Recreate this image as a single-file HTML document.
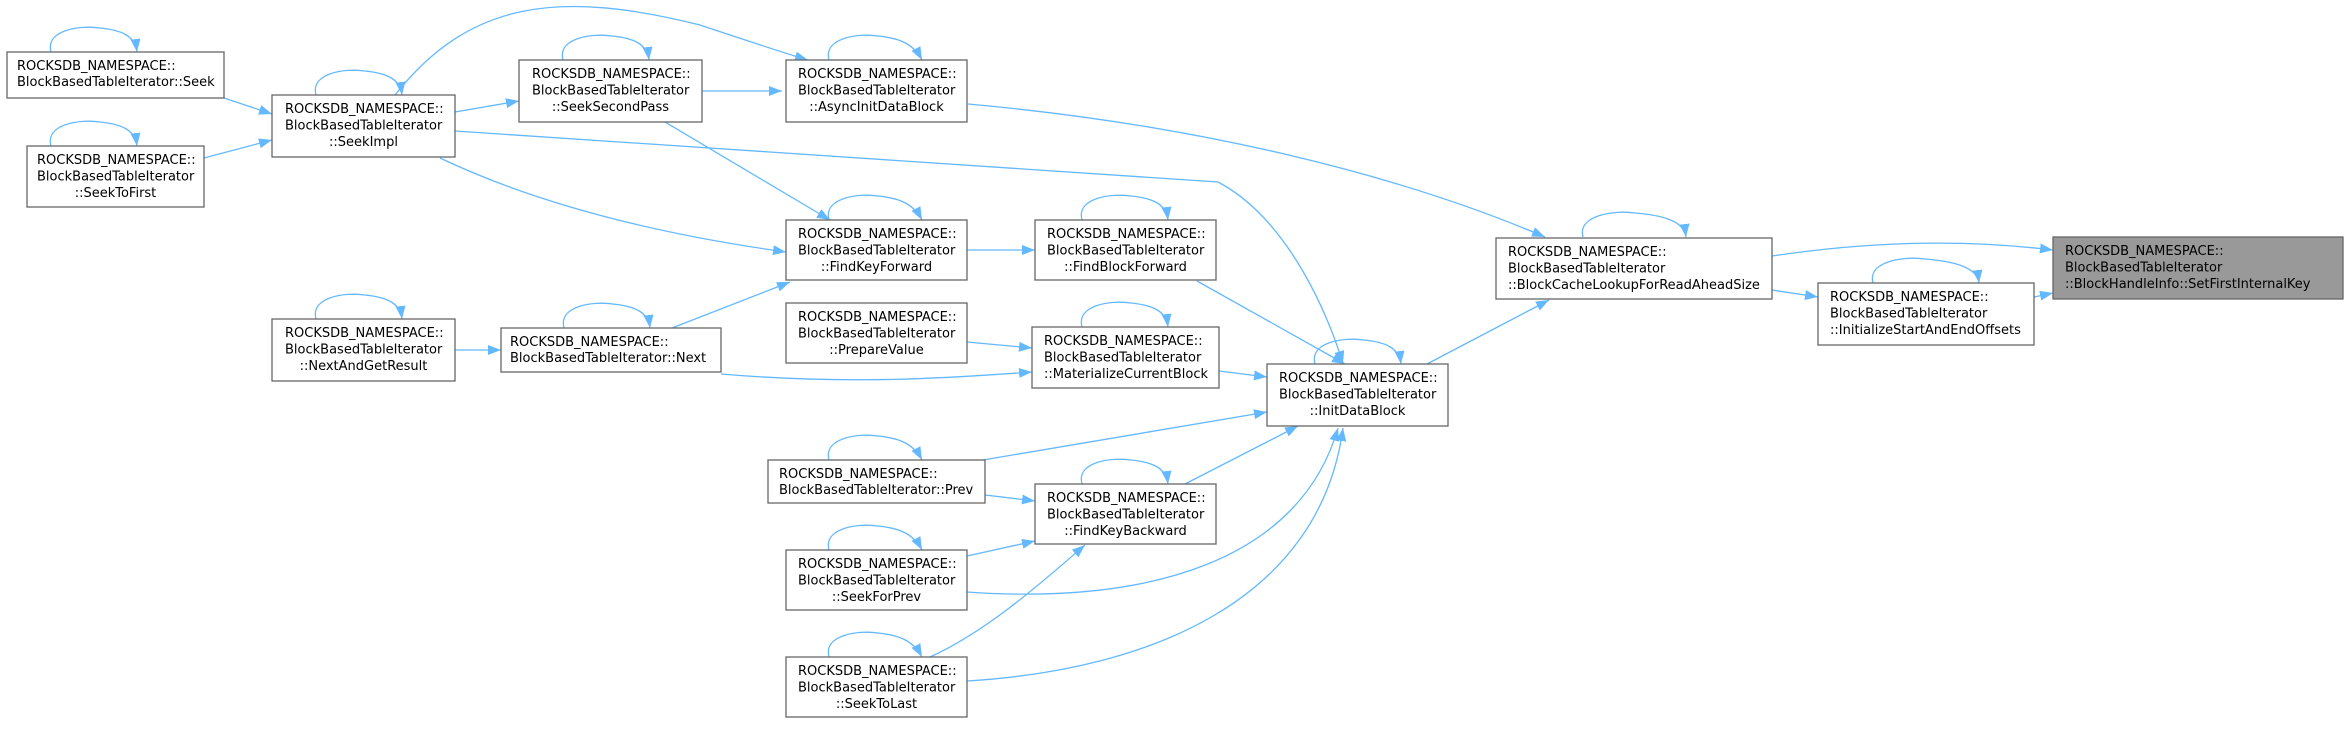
<!DOCTYPE html>
<html><head><meta charset="utf-8"><style>
html,body{margin:0;padding:0;background:#fff;}
svg{display:block;}
text{font-family:"DejaVu Sans","Liberation Sans",sans-serif;font-size:13px;fill:#000;}
.n{fill:#fff;stroke:#666;stroke-width:1.3;}
.e{fill:none;stroke:#63b8ff;stroke-width:1.3;}
</style></head><body>
<svg width="2350" height="736" viewBox="0 0 2350 736" xmlns="http://www.w3.org/2000/svg">
<defs>
<marker id="a" markerUnits="userSpaceOnUse" markerWidth="14" markerHeight="10" refX="13" refY="5" orient="auto">
<path d="M0,0 L13,5 L0,10 z" fill="#63b8ff"/>
</marker>
</defs>

<g class="e" marker-end="url(#a)">
<path d="M224,98 L272,114"/>
<path d="M204,158 L272,140"/>
<path d="M455,112 L519,101"/>
<path d="M395,95 C470,0 560,-10 700,25 C760,45 790,55 808,60"/>
<path d="M702,91 L782,91"/>
<path d="M665,122 L830,220"/>
<path d="M455,131 L1218,182 C1290,220 1330,320 1343,364"/>
<path d="M440,158 C560,215 700,240 786,252"/>
<path d="M455,350 L501,350"/>
<path d="M672,328 L790,282"/>
<path d="M721,374 C850,385 950,378 1032,372"/>
<path d="M967,342 L1032,348"/>
<path d="M967,250 L1035,250"/>
<path d="M1197,281 L1345,364"/>
<path d="M1219,371 L1267,377"/>
<path d="M983,460 L1267,412"/>
<path d="M985,495 L1035,501"/>
<path d="M1185,484 L1298,426"/>
<path d="M967,556 L1035,541"/>
<path d="M967,592 C1150,605 1300,560 1338,428"/>
<path d="M930,657 C990,630 1050,575 1085,545"/>
<path d="M967,681 C1150,670 1320,600 1343,428"/>
<path d="M968,104 C1200,125 1400,175 1545,237"/>
<path d="M1427,364 L1549,300"/>
<path d="M1772,256 C1880,240 1970,240 2053,250"/>
<path d="M1772,290 L1818,297"/>
<path d="M2034,297 L2053,293"/>
<path d="M51,52 C45,30 80,25 100,28 C120,30 135,35 137,52"/>
<path d="M51,146 C45,124 80,119 100,122 C120,124 135,129 137,146"/>
<path d="M316,95 C310,73 345,68 365,71 C385,73 400,78 402,95"/>
<path d="M563,60 C557,38 592,33 612,36 C632,38 647,43 649,60"/>
<path d="M829,60 C823,38 858,33 878,36 C898,38 913,43 922,60"/>
<path d="M316,319 C310,297 345,292 365,295 C385,297 400,302 402,319"/>
<path d="M564,328 C558,306 593,301 613,304 C633,306 648,311 650,328"/>
<path d="M829,220 C823,198 858,193 878,196 C898,198 913,203 922,220"/>
<path d="M1082,220 C1076,198 1111,193 1131,196 C1151,198 1166,203 1168,220"/>
<path d="M1082,327 C1076,305 1111,300 1131,303 C1151,305 1166,310 1168,327"/>
<path d="M829,460 C823,438 858,433 878,436 C898,438 913,443 922,460"/>
<path d="M1082,484 C1076,462 1111,457 1131,460 C1151,462 1166,467 1168,484"/>
<path d="M829,550 C823,528 858,523 878,526 C898,528 913,533 922,550"/>
<path d="M829,657 C823,635 858,630 878,633 C898,635 913,640 922,657"/>
<path d="M1315,364 C1309,342 1344,337 1364,340 C1384,342 1399,347 1401,364"/>
<path d="M1583,237 C1577,215 1615,210 1635,213 C1660,215 1684,220 1686,237"/>
<path d="M1873,283 C1867,261 1905,256 1925,259 C1950,261 1977,266 1979,283"/>
</g>

<g>
<rect class="n" x="7" y="52" width="217" height="46"/>
<text x="17" y="70">ROCKSDB_NAMESPACE::</text><text x="17" y="86">BlockBasedTableIterator::Seek</text>

<rect class="n" x="27" y="146" width="177" height="61"/>
<text x="37" y="164">ROCKSDB_NAMESPACE::</text><text x="37" y="180.5">BlockBasedTableIterator</text><text x="115.5" y="197" text-anchor="middle">::SeekToFirst</text>

<rect class="n" x="272" y="95" width="183" height="62"/>
<text x="285" y="113">ROCKSDB_NAMESPACE::</text><text x="285" y="129.5">BlockBasedTableIterator</text><text x="363.5" y="146" text-anchor="middle">::SeekImpl</text>

<rect class="n" x="519" y="60" width="183" height="62"/>
<text x="532" y="78">ROCKSDB_NAMESPACE::</text><text x="532" y="94.5">BlockBasedTableIterator</text><text x="610.5" y="111" text-anchor="middle">::SeekSecondPass</text>

<rect class="n" x="786" y="60" width="181" height="62"/>
<text x="798" y="78">ROCKSDB_NAMESPACE::</text><text x="798" y="94.5">BlockBasedTableIterator</text><text x="876.5" y="111" text-anchor="middle">::AsyncInitDataBlock</text>

<rect class="n" x="272" y="319" width="183" height="62"/>
<text x="285" y="337">ROCKSDB_NAMESPACE::</text><text x="285" y="353.5">BlockBasedTableIterator</text><text x="363.5" y="370" text-anchor="middle">::NextAndGetResult</text>

<rect class="n" x="501" y="328" width="220" height="44"/>
<text x="510" y="346">ROCKSDB_NAMESPACE::</text><text x="510" y="362">BlockBasedTableIterator::Next</text>

<rect class="n" x="786" y="220" width="181" height="60"/>
<text x="798" y="238">ROCKSDB_NAMESPACE::</text><text x="798" y="254.5">BlockBasedTableIterator</text><text x="876.5" y="271" text-anchor="middle">::FindKeyForward</text>

<rect class="n" x="786" y="303" width="181" height="60"/>
<text x="798" y="321">ROCKSDB_NAMESPACE::</text><text x="798" y="337.5">BlockBasedTableIterator</text><text x="876.5" y="354" text-anchor="middle">::PrepareValue</text>

<rect class="n" x="1035" y="220" width="181" height="60"/>
<text x="1047" y="238">ROCKSDB_NAMESPACE::</text><text x="1047" y="254.5">BlockBasedTableIterator</text><text x="1125.5" y="271" text-anchor="middle">::FindBlockForward</text>

<rect class="n" x="1032" y="327" width="187" height="61"/>
<text x="1044" y="345">ROCKSDB_NAMESPACE::</text><text x="1044" y="361.5">BlockBasedTableIterator</text><text x="1044" y="378">::MaterializeCurrentBlock</text>

<rect class="n" x="1267" y="364" width="181" height="62"/>
<text x="1279" y="382">ROCKSDB_NAMESPACE::</text><text x="1279" y="398.5">BlockBasedTableIterator</text><text x="1357.5" y="415" text-anchor="middle">::InitDataBlock</text>

<rect class="n" x="768" y="460" width="217" height="43"/>
<text x="779" y="478">ROCKSDB_NAMESPACE::</text><text x="779" y="494">BlockBasedTableIterator::Prev</text>

<rect class="n" x="1035" y="484" width="181" height="60"/>
<text x="1047" y="502">ROCKSDB_NAMESPACE::</text><text x="1047" y="518.5">BlockBasedTableIterator</text><text x="1125.5" y="535" text-anchor="middle">::FindKeyBackward</text>

<rect class="n" x="786" y="550" width="181" height="60"/>
<text x="798" y="568">ROCKSDB_NAMESPACE::</text><text x="798" y="584.5">BlockBasedTableIterator</text><text x="876.5" y="601" text-anchor="middle">::SeekForPrev</text>

<rect class="n" x="786" y="657" width="181" height="60"/>
<text x="798" y="675">ROCKSDB_NAMESPACE::</text><text x="798" y="691.5">BlockBasedTableIterator</text><text x="876.5" y="708" text-anchor="middle">::SeekToLast</text>

<rect class="n" x="1496" y="238" width="276" height="61"/>
<text x="1508" y="256">ROCKSDB_NAMESPACE::</text><text x="1508" y="272.5">BlockBasedTableIterator</text><text x="1508" y="289">::BlockCacheLookupForReadAheadSize</text>

<rect class="n" x="1818" y="283" width="216" height="62"/>
<text x="1830" y="301">ROCKSDB_NAMESPACE::</text><text x="1830" y="317.5">BlockBasedTableIterator</text><text x="1830" y="334">::InitializeStartAndEndOffsets</text>

<rect x="2053" y="237" width="290" height="62" fill="#999" stroke="#666" stroke-width="1.3"/>
<text x="2065" y="255">ROCKSDB_NAMESPACE::</text><text x="2065" y="271.5">BlockBasedTableIterator</text><text x="2065" y="288">::BlockHandleInfo::SetFirstInternalKey</text>
</g>
</svg>
</body></html>
